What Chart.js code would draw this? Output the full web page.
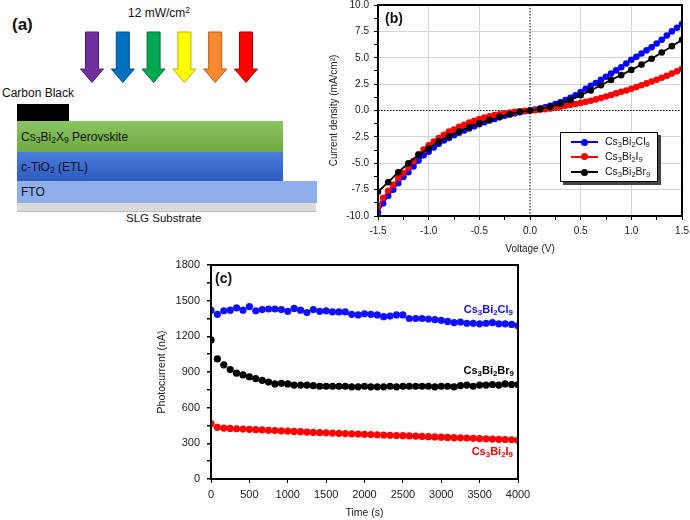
<!DOCTYPE html>
<html>
<head>
<meta charset="utf-8">
<script src="https://cdn.jsdelivr.net/npm/chart.js@4.4.1/dist/chart.umd.min.js"></script>
<style>
  body { margin: 0; background: #fff; }
  #wrap { position: relative; width: 690px; height: 520px; overflow: hidden; background: #fff;
          font-family: 'Liberation Sans', Arial, sans-serif; color: #111; }
  .abs { position: absolute; white-space: nowrap; }
  sub { font-size: 0.72em; vertical-align: -0.28em; line-height: 0; }
  sup { font-size: 0.7em; vertical-align: 0.45em; line-height: 0; }
  .layer { position: absolute; left: 17px; }
  .layer span { position: absolute; left: 4px; top: 50%; transform: translateY(-50%); font-size: 12px; }
  canvas { position: absolute; }
  #legendB { position: absolute; left: 560px; top: 132px; width: 96px; height: 48px; background: #fff;
             border: 1px solid #000; box-shadow: 3px 3px 0 #444; font-size: 10.5px; }
  #legendB .row { position: absolute; left: 10px; height: 14px; line-height: 14px; }
  #legendB .mk { display: inline-block; position: relative; width: 27px; height: 2px; vertical-align: middle; margin-right: 7px; }
  #legendB .mk::after { content: ''; position: absolute; left: 10px; top: -2.5px; width: 7px; height: 7px; border-radius: 50%; background: inherit; }
  .tag { position: absolute; font-weight: bold; font-size: 11px; white-space: nowrap; }
</style>
</head>
<body>
<div id="wrap">
  <!-- (a) device schematic -->
  <div class="abs" style="left:12px; top:15px; font-size:17px; font-weight:bold;">(a)</div>
  <div class="abs" style="left:128px; top:6px; font-size:12px;">12 mW/cm<sup>2</sup></div>
  <svg class="abs" id="arrows" style="left:0; top:0;" width="300" height="90"></svg>
  <div class="abs" style="left:2px; top:86px; font-size:12px;">Carbon Black</div>
  <div class="layer" style="top:104px; width:52px; height:17px; background:#000;"></div>
  <div class="layer" style="top:121px; width:266px; height:31px; background:linear-gradient(#8cc562,#6eaa40);"><span>Cs<sub>3</sub>Bi<sub>2</sub>X<sub>9</sub> Perovskite</span></div>
  <div class="layer" style="top:152px; width:266px; height:29px; background:linear-gradient(#4a7ddf,#2d5bbe);"><span>c-TiO<sub>2</sub> (ETL)</span></div>
  <div class="layer" style="top:181px; width:300px; height:22px; background:#8fafe9;"><span>FTO</span></div>
  <div class="layer" style="top:203px; width:299px; height:8px; background:#dadada; border-bottom:1px solid #bbb;"></div>
  <div class="abs" style="left:126px; top:212px; font-size:11.5px;">SLG Substrate</div>

  <canvas id="ivChart" width="376" height="267" style="left:320px; top:-7px;"></canvas>
  <canvas id="ptChart" width="388" height="270" style="left:150px; top:250px;"></canvas>

  <div class="abs" style="left:385px; top:10px; font-size:14px; font-weight:bold;">(b)</div>
  <div id="legendB">
    <div class="row" style="top:1px;"><span class="mk" style="background:#0000ff"></span>Cs<sub>3</sub>Bi<sub>2</sub>Cl<sub>9</sub></div>
    <div class="row" style="top:15.5px;"><span class="mk" style="background:#ff0000"></span>Cs<sub>3</sub>Bi<sub>2</sub>I<sub>9</sub></div>
    <div class="row" style="top:31px;"><span class="mk" style="background:#000"></span>Cs<sub>3</sub>Bi<sub>2</sub>Br<sub>9</sub></div>
  </div>

  <div class="abs" style="left:215px; top:270px; font-size:14px; font-weight:bold;">(c)</div>
  <div class="tag" style="right:177px; top:303px; color:#1010ff;">Cs<sub>3</sub>Bi<sub>2</sub>Cl<sub>9</sub></div>
  <div class="tag" style="right:176px; top:364px; color:#000;">Cs<sub>3</sub>Bi<sub>2</sub>Br<sub>9</sub></div>
  <div class="tag" style="right:177px; top:445px; color:#ff0000;">Cs<sub>3</sub>Bi<sub>2</sub>I<sub>9</sub></div>
</div>

<script>
// ---- panel (b): J-V curves ----
const VOLT_FINE = [-1.5, -1.45, -1.4, -1.35, -1.3, -1.25, -1.2, -1.15, -1.1, -1.05,
  -1.0, -0.95, -0.9, -0.85, -0.8, -0.75, -0.7, -0.65, -0.6, -0.55,
  -0.5, -0.45, -0.4, -0.35, -0.3, -0.25, -0.2, -0.15, -0.1, -0.05,
  0, 0.05, 0.1, 0.15, 0.2, 0.25, 0.3, 0.35, 0.4, 0.45,
  0.5, 0.55, 0.6, 0.65, 0.7, 0.75, 0.8, 0.85, 0.9, 0.95,
  1.0, 1.05, 1.1, 1.15, 1.2, 1.25, 1.3, 1.35, 1.4, 1.45, 1.5];
const VOLT_COARSE = [-1.5, -1.4, -1.3, -1.2, -1.1, -1.0, -0.9, -0.8, -0.7, -0.6,
  -0.5, -0.4, -0.3, -0.2, -0.1, 0, 0.1, 0.2, 0.3, 0.4,
  0.5, 0.6, 0.7, 0.8, 0.9, 1.0, 1.1, 1.2, 1.3, 1.4, 1.5];

const J_CL = [-9.7, -8.8, -8.1, -7.5, -6.9, -6.3, -5.85, -5.3, -4.75, -4.25,
  -3.9, -3.5, -3.15, -2.85, -2.6, -2.35, -2.1, -1.9, -1.7, -1.5,
  -1.3, -1.12, -0.95, -0.8, -0.65, -0.5, -0.38, -0.27, -0.16, -0.07,
  0, 0.08, 0.18, 0.3, 0.45, 0.6, 0.78, 0.98, 1.2, 1.45,
  1.75, 2.05, 2.35, 2.6, 2.9, 3.2, 3.5, 3.8, 4.1, 4.45,
  4.8, 5.1, 5.4, 5.7, 6.0, 6.35, 6.7, 7.1, 7.5, 7.85, 8.2];
const J_I = [-9.1, -8.3, -7.6, -7.05, -6.4, -5.95, -5.4, -4.8, -4.15, -3.7,
  -3.3, -2.95, -2.6, -2.3, -2.0, -1.8, -1.55, -1.35, -1.15, -0.97,
  -0.82, -0.68, -0.55, -0.44, -0.35, -0.27, -0.2, -0.13, -0.08, -0.03,
  0, 0.03, 0.07, 0.12, 0.18, 0.26, 0.35, 0.44, 0.53, 0.62,
  0.72, 0.82, 0.93, 1.05, 1.18, 1.32, 1.47, 1.62, 1.77, 1.9,
  2.05, 2.22, 2.4, 2.57, 2.75, 2.92, 3.1, 3.3, 3.5, 3.72, 3.95];
const J_BR = [-7.7, -6.8, -5.85, -5.0, -4.2, -3.6, -2.95, -2.45, -2.0, -1.6,
  -1.2, -0.9, -0.6, -0.35, -0.13, 0, 0.15, 0.35, 0.65, 1.0,
  1.45, 1.9, 2.4, 2.9, 3.35, 3.85, 4.35, 4.9, 5.5, 6.1, 6.7];

// ---- panel (c): photocurrent vs time ----
const TIME_S = [0, 83, 167, 250, 333, 417, 500, 583, 667, 750, 833, 917, 1000,
  1083, 1167, 1250, 1333, 1417, 1500, 1583, 1667, 1750, 1833, 1917, 2000,
  2083, 2167, 2250, 2333, 2417, 2500, 2583, 2667, 2750, 2833, 2917, 3000,
  3083, 3167, 3250, 3333, 3417, 3500, 3583, 3667, 3750, 3833, 3917, 4000];
const P_CL = [1420, 1385, 1415, 1420, 1440, 1420, 1450, 1415, 1425, 1430, 1430, 1425, 1410,
  1435, 1420, 1400, 1425, 1410, 1415, 1405, 1405, 1405, 1385, 1380, 1390,
  1385, 1380, 1365, 1370, 1380, 1380, 1350, 1350, 1350, 1345, 1340, 1335,
  1325, 1315, 1320, 1310, 1310, 1305, 1310, 1315, 1305, 1305, 1300, 1290];
const P_BR = [1170, 1010, 960, 920, 890, 875, 860, 845, 830, 815, 800, 805, 800,
  790, 790, 790, 785, 780, 780, 780, 780, 780, 775, 775, 780,
  775, 775, 775, 780, 775, 780, 780, 780, 780, 780, 775, 780,
  780, 775, 785, 790, 780, 790, 790, 795, 790, 800, 795, 795];
const P_I = [465, 435, 428, 425, 422, 420, 418, 415, 413, 410, 408, 405, 403,
  400, 398, 395, 393, 390, 388, 386, 384, 382, 380, 378, 376,
  374, 372, 370, 368, 366, 364, 362, 360, 358, 356, 354, 352,
  350, 348, 346, 344, 342, 340, 338, 336, 334, 332, 330, 325];

// schematic arrows for panel (a)
const ARROW_COLORS = [['#7030a0', '#4d2070'], ['#0070c0', '#004b85'], ['#00a84f', '#00703a'],
  ['#ffff00', '#b8b000'], ['#f9892f', '#b8580f'], ['#ff0000', '#b00000']];
const svg = document.getElementById('arrows');
ARROW_COLORS.forEach(([fill, line], i) => {
  const cx = 92 + i * 30.8;
  const p = document.createElementNS('http://www.w3.org/2000/svg', 'polygon');
  p.setAttribute('points', [
    [cx - 6.5, 32], [cx + 6.5, 32], [cx + 6.5, 69], [cx + 11.5, 69],
    [cx, 82.5], [cx - 11.5, 69], [cx - 6.5, 69]].map(q => q.join(',')).join(' '));
  p.setAttribute('fill', fill);
  p.setAttribute('stroke', line);
  p.setAttribute('stroke-width', '1');
  svg.appendChild(p);
});

Chart.defaults.font.family = "'Liberation Sans', Arial, sans-serif";
Chart.defaults.color = '#222';

const isMult = (v, s) => Math.abs(v / s - Math.round(v / s)) < 1e-6;
const pts = (xs, ys) => xs.map((x, i) => ({ x: x, y: ys[i] }));

// box round the plot area
const framePlugin = {
  id: 'frame',
  afterDraw(chart) {
    const { ctx, chartArea: a } = chart;
    ctx.save();
    ctx.strokeStyle = '#000';
    ctx.lineWidth = 2;
    ctx.strokeRect(a.left, a.top, a.right - a.left, a.bottom - a.top);
    ctx.restore();
  }
};

// dotted lines through the origin (panel b)
const zeroLines = {
  id: 'zeroLines',
  beforeDatasetsDraw(chart) {
    const { ctx, chartArea: a, scales } = chart;
    const x0 = scales.x.getPixelForValue(0);
    const y0 = scales.y.getPixelForValue(0);
    ctx.save();
    ctx.strokeStyle = '#000';
    ctx.lineWidth = 1;
    ctx.setLineDash([1.5, 1.5]);
    ctx.beginPath();
    ctx.moveTo(x0, a.top); ctx.lineTo(x0, a.bottom);
    ctx.moveTo(a.left, y0); ctx.lineTo(a.right, y0);
    ctx.stroke();
    ctx.restore();
  }
};

new Chart(document.getElementById('ivChart'), {
  type: 'line',
  data: {
    datasets: [
      { label: 'Cs3Bi2Br9', data: pts(VOLT_COARSE, J_BR), borderColor: '#000', backgroundColor: '#000' },
      { label: 'Cs3Bi2I9', data: pts(VOLT_FINE, J_I), borderColor: '#ff0000', backgroundColor: '#ff0000' },
      { label: 'Cs3Bi2Cl9', data: pts(VOLT_FINE, J_CL), borderColor: '#0000ff', backgroundColor: '#0000ff' }
    ]
  },
  options: {
    responsive: false,
    animation: false,
    layout: { padding: { left: 0, right: 14, top: 12, bottom: 0 } },
    plugins: { legend: { display: false }, tooltip: { enabled: false } },
    elements: {
      line: { borderWidth: 1.8, tension: 0 },
      point: { radius: 3.3, borderWidth: 0 }
    },
    scales: {
      x: {
        type: 'linear', min: -1.5, max: 1.5,
        afterFit: s => { s.height = 44; },
        ticks: { stepSize: 0.25, autoSkip: false, maxRotation: 0, padding: 5, font: { size: 10 },
                 callback: v => isMult(v, 0.5) ? v.toFixed(1) : '' },
        grid: { color: c => (isMult(c.tick.value, 0.5) && Math.abs(c.tick.value) > 1e-6) ? '#d4d4d4' : 'rgba(0,0,0,0)',
                tickColor: '#000', tickLength: 4, lineWidth: 1 },
        border: { color: '#000', width: 2 },
        title: { display: true, text: 'Voltage (V)', font: { size: 10 }, padding: { top: 0, bottom: 5 } }
      },
      y: {
        type: 'linear', min: -10, max: 10,
        afterFit: s => { s.width = 58; },
        ticks: { stepSize: 1.25, autoSkip: false, padding: 5, font: { size: 10 },
                 callback: v => isMult(v, 2.5) ? v.toFixed(1) : '' },
        grid: { color: c => (isMult(c.tick.value, 2.5) && Math.abs(c.tick.value) > 1e-6) ? '#d4d4d4' : 'rgba(0,0,0,0)',
                tickColor: '#000', tickLength: 4, lineWidth: 1 },
        border: { color: '#000', width: 2 },
        title: { display: true, text: 'Current density (mA/cm²)', font: { size: 10 }, padding: { top: 8, bottom: 0 } }
      }
    }
  },
  plugins: [zeroLines, framePlugin]
});

new Chart(document.getElementById('ptChart'), {
  type: 'line',
  data: {
    datasets: [
      { label: 'Cs3Bi2Cl9', data: pts(TIME_S, P_CL), borderColor: '#1010ff', backgroundColor: '#1010ff' },
      { label: 'Cs3Bi2Br9', data: pts(TIME_S, P_BR), borderColor: '#000', backgroundColor: '#000' },
      { label: 'Cs3Bi2I9', data: pts(TIME_S, P_I), borderColor: '#ff0000', backgroundColor: '#ff0000' }
    ]
  },
  options: {
    responsive: false,
    animation: false,
    layout: { padding: { left: 0, right: 20, top: 15, bottom: 0 } },
    plugins: { legend: { display: false }, tooltip: { enabled: false } },
    showLine: false,
    elements: { point: { radius: 3.6, borderWidth: 0 } },
    scales: {
      x: {
        type: 'linear', min: 0, max: 4000,
        afterFit: s => { s.height = 41; },
        ticks: { stepSize: 500, autoSkip: false, maxRotation: 0, padding: 5, font: { size: 11 },
                 callback: v => String(v) },
        grid: { drawOnChartArea: false, tickColor: '#000', tickLength: 4 },
        border: { color: '#000', width: 2 },
        title: { display: true, text: 'Time (s)', font: { size: 10.5 }, padding: { top: 0, bottom: 1 } }
      },
      y: {
        type: 'linear', min: 0, max: 1800,
        afterFit: s => { s.width = 61; },
        ticks: { stepSize: 150, autoSkip: false, padding: 7, font: { size: 11 },
                 callback: v => isMult(v, 300) ? String(v) : '' },
        grid: { drawOnChartArea: false, tickColor: '#000', tickLength: 4, lineWidth: 1.5 },
        border: { color: '#000', width: 2 },
        title: { display: true, text: 'Photocurrent (nA)', font: { size: 10.5 }, padding: { top: 6, bottom: 0 } }
      }
    }
  },
  plugins: [framePlugin]
});
</script>
</body>
</html>
